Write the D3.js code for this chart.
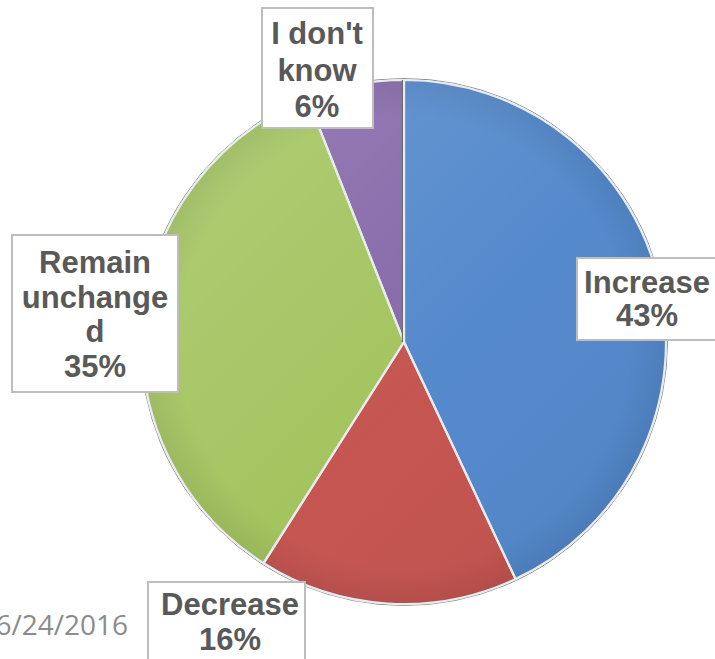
<!DOCTYPE html>
<html>
<head>
<meta charset="utf-8">
<script src="https://cdn.jsdelivr.net/npm/d3@7/dist/d3.min.js"></script>
<style>
  html, body { margin: 0; padding: 0; background: #ffffff; overflow: hidden; }
  svg { display: block; }
</style>
</head>
<body>
<svg id="chart" width="715" height="659"></svg>
<script>
// Survey answers, clockwise from 12 o'clock
const categories = ["Increase", "Decrease", "Remain unchanged", "I don't know"];
const values = [43, 16, 35, 6];
// Text shown in each data label box, one entry per line
const labelLines = [
  ["Increase", "43%"],
  ["Decrease", "16%"],
  ["Remain", "unchange", "d", "35%"],
  ["I don't", "know", "6%"]
];
const footerDate = "6/24/2016";

// Office-style slice colours
const colors = ["#5187cb", "#c4524e", "#a2c35c", "#8466a8"];

// Label box geometry: box rect, text centre x, first baseline, line step
const labelLayout = [
  { x: 577, y: 258, w: 160, h: 82,  tx: 647, ty: 293, step: 33 },
  { x: 148, y: 582, w: 157, h: 100, tx: 230, ty: 615, step: 35 },
  { x: 12,  y: 235, w: 166, h: 157, tx: 95,  ty: 273, step: 34.7 },
  { x: 262, y: 8,   w: 111, h: 120, tx: 317, ty: 44,  step: 36.5 }
];

const svg = d3.select("#chart");
const cx = 404, cy = 342, radius = 262;

const defs = svg.append("defs");
// soft lighting across the whole disc
const light = defs.append("linearGradient")
  .attr("id", "light")
  .attr("gradientUnits", "userSpaceOnUse")
  .attr("x1", cx - radius).attr("y1", cy - radius)
  .attr("x2", cx + radius).attr("y2", cy + radius);
light.append("stop").attr("offset", "0%").attr("stop-color", "#ffffff").attr("stop-opacity", 0.18);
light.append("stop").attr("offset", "55%").attr("stop-color", "#ffffff").attr("stop-opacity", 0.02);
light.append("stop").attr("offset", "100%").attr("stop-color", "#000000").attr("stop-opacity", 0.06);

const rim = defs.append("radialGradient")
  .attr("id", "rim")
  .attr("gradientUnits", "userSpaceOnUse")
  .attr("cx", cx).attr("cy", cy).attr("r", radius);
rim.append("stop").attr("offset", "86%").attr("stop-color", "#000000").attr("stop-opacity", 0);
rim.append("stop").attr("offset", "100%").attr("stop-color", "#000000").attr("stop-opacity", 0.07);

const pie = d3.pie().sort(null).value(d => d)(values);
const arc = d3.arc().innerRadius(0).outerRadius(radius);

const g = svg.append("g").attr("transform", `translate(${cx},${cy})`);

// outer thin dark edge
g.append("circle").attr("r", radius + 1.5)
  .attr("fill", "none").attr("stroke", "#8c8c8c").attr("stroke-width", 1);

g.selectAll("path.slice")
  .data(pie)
  .join("path")
  .attr("class", "slice")
  .attr("d", arc)
  .attr("fill", (d, i) => colors[i]);

// shading overlays
g.append("circle").attr("r", radius).attr("fill", "url(#light)")
  .attr("transform", `translate(${-cx},${-cy})`).attr("cx", cx).attr("cy", cy);
g.append("circle").attr("r", radius).attr("fill", "url(#rim)")
  .attr("transform", `translate(${-cx},${-cy})`).attr("cx", cx).attr("cy", cy);

// bevel highlight along slice edges
g.selectAll("path.edge")
  .data(pie)
  .join("path")
  .attr("class", "edge")
  .attr("d", arc)
  .attr("fill", "none")
  .attr("stroke", "#e8ecef")
  .attr("stroke-width", 2.2)
  .attr("stroke-linejoin", "round");

// darker seam on the top divider
g.append("line")
  .attr("x1", 0).attr("y1", 0).attr("x2", 0).attr("y2", -radius)
  .attr("stroke", "#6d6d6d").attr("stroke-width", 1.2)
  .attr("transform", "translate(-1.6,0)");

// label boxes
const labels = svg.append("g").selectAll("g.label")
  .data(pie)
  .join("g")
  .attr("class", "label");

labels.append("rect")
  .attr("x", (d, i) => labelLayout[i].x)
  .attr("y", (d, i) => labelLayout[i].y)
  .attr("width", (d, i) => labelLayout[i].w)
  .attr("height", (d, i) => labelLayout[i].h)
  .attr("fill", "#ffffff")
  .attr("stroke", "#bdbdbd")
  .attr("stroke-width", 2);

labels.append("text")
  .attr("text-anchor", "middle")
  .attr("font-family", "'Liberation Sans', Arial, sans-serif")
  .attr("font-weight", "bold")
  .attr("font-size", 31)
  .attr("fill", "#595959")
  .each(function (d, i) {
    const lay = labelLayout[i];
    d3.select(this).selectAll("tspan")
      .data(labelLines[i])
      .join("tspan")
      .attr("x", lay.tx)
      .attr("y", (t, j) => lay.ty + j * lay.step)
      .text(t => t);
  });

// slide footer date
svg.append("text")
  .attr("x", 128).attr("y", 635)
  .attr("text-anchor", "end")
  .attr("font-family", "'Open Sans', 'Liberation Sans', sans-serif")
  .attr("font-size", 28)
  .attr("fill", "#8b8b8b")
  .text(footerDate);
</script>
</body>
</html>
